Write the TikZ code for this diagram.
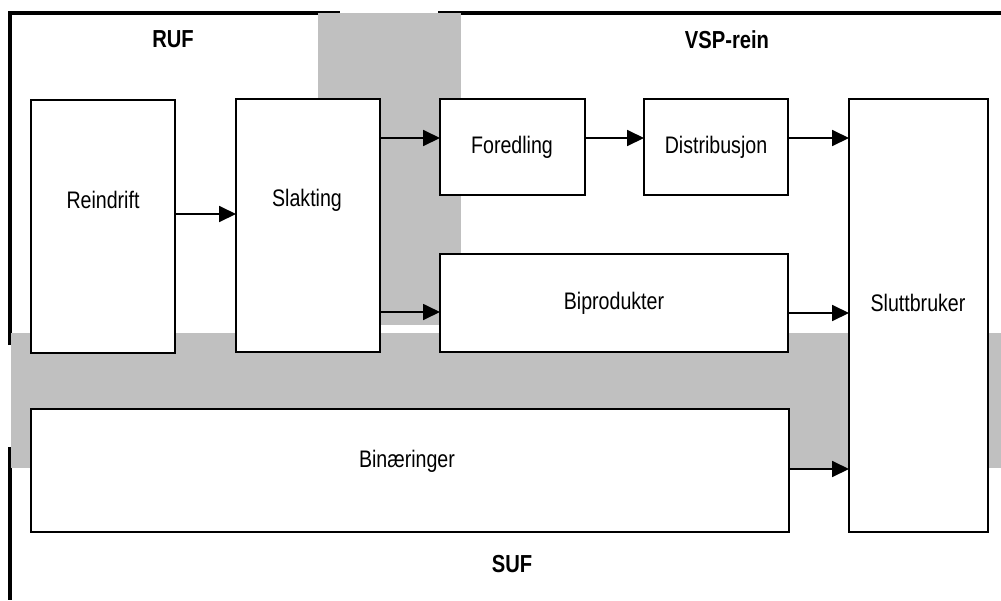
\documentclass[tikz,border=0pt]{standalone}
\usepackage{fontspec}
\setmainfont{Liberation Sans}[FakeStretch=0.82]
\usetikzlibrary{arrows.meta}
\definecolor{bandgray}{HTML}{C0C0C0}

\tikzset{
  box/.style={draw, fill=white, line width=0.9pt, inner sep=0pt, outer sep=0pt},
  txt/.style={font=\fontsize{17}{19}\selectfont, inner sep=0pt},
  head/.style={font=\fontsize{17.5}{20}\selectfont\bfseries, inner sep=0pt},
  flow/.style={-{Triangle[length=0.42cm, width=0.4cm]}, line width=0.9pt},
  border/.style={line width=3pt},
  band/.style={fill=bandgray}
}

\begin{document}
\begin{tikzpicture}[x=0.025cm, y=-0.025cm]
\useasboundingbox (0,0) rectangle (1001,600);

% outer frame
\draw[border] (10,345) -- (10,13) -- (340,13);
\draw[border] (438,13) -- (1001,13);
\draw[border] (10,447) -- (10,600);

% grey bands
\fill[band] (318,13) rectangle (461,325);
\fill[band] (11,333) rectangle (1001,468);

% area names
\node[head] (ruf) at (173,39) {RUF};
\node[head] (vsp) at (727,40) {VSP-rein};
\node[head] (suf) at (512,564) {SUF};

% boxes
\node[box, minimum width=3.6cm, minimum height=6.325cm] (reindrift) at (103,226.5) {};
\node[box, minimum width=3.6cm, minimum height=6.325cm] (slakting) at (308,225.5) {};
\node[box, minimum width=3.625cm, minimum height=2.4cm] (foredling) at (512.5,147) {};
\node[box, minimum width=3.6cm, minimum height=2.4cm] (distribusjon) at (716,147) {};
\node[box, minimum width=8.7cm, minimum height=2.45cm] (biprodukter) at (614,303) {};
\node[box, minimum width=18.95cm, minimum height=3.075cm] (binaeringer) at (410,470.5) {};
\node[box, minimum width=3.475cm, minimum height=10.825cm] (sluttbruker) at (918.5,315.5) {};

% box texts
\node[txt] (t-reindrift) at (103,200) {Reindrift};
\node[txt] (t-slakting) at (307,200) {Slakting};
\node[txt] (t-foredling) at (512,147) {Foredling};
\node[txt] (t-distribusjon) at (716,147) {Distribusjon};
\node[txt] (t-biprodukter) at (614,303) {Biprodukter};
\node[txt] (t-sluttbruker) at (918,303) {Sluttbruker};
\node[txt] (t-binaeringer) at (407,461) {Binæringer};

% flows
\draw[flow] (reindrift.east |- 0,214) -- (slakting.west |- 0,214);
\draw[flow] (slakting.east |- 0,138) -- (foredling.west |- 0,138);
\draw[flow] (foredling.east |- 0,138) -- (distribusjon.west |- 0,138);
\draw[flow] (distribusjon.east |- 0,138) -- (sluttbruker.west |- 0,138);
\draw[flow] (slakting.east |- 0,312) -- (biprodukter.west |- 0,312);
\draw[flow] (biprodukter.east |- 0,313) -- (sluttbruker.west |- 0,313);
\draw[flow] (binaeringer.east |- 0,469) -- (sluttbruker.west |- 0,469);
\end{tikzpicture}
\end{document}
